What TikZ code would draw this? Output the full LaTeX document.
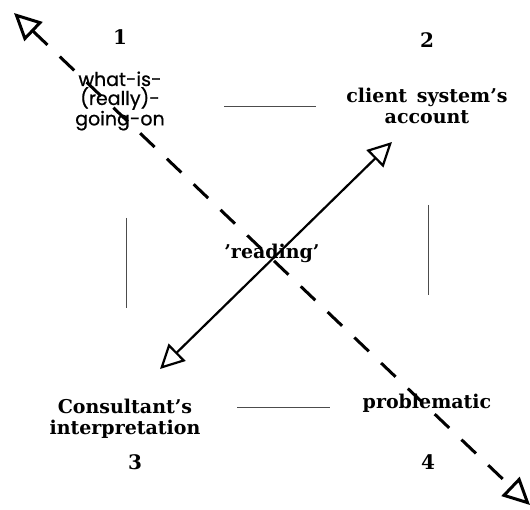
\documentclass[tikz,border=0pt]{standalone}
\usepackage{fontspec}
\setmainfont{DejaVu Serif}
\newfontfamily\gothic[FakeBold=0.8]{Poppins}
\usetikzlibrary{arrows.meta, positioning}

\tikzset{
  hollow/.tip={Triangle[open, length=27pt, width=26pt]},
  hollowsm/.tip={Triangle[open, length=24pt, width=24pt]},
  label/.style={font=\fontsize{19}{21}\selectfont\bfseries, align=center, inner sep=0pt},
  side/.style={line width=0.6pt, black!70},
}

\begin{document}
\begin{tikzpicture}[x=1pt, y=-1pt]
    \useasboundingbox (0,0) rectangle (530,510);

    % Corner numbers
    \foreach \n/\x/\y in {1/120/37, 2/427/40, 3/135/462, 4/428/462}
        \node[label, font=\fontsize{20}{22}\selectfont\bfseries] (num\n) at (\x,\y) {\n};

    % Corner texts
    \node[label, font=\gothic\fontsize{19}{19}\selectfont] (real) at (120,101) {what-is-\\(really)-\\going-on};
    \node[label] (client) at (427,106) {client\, system's\\account};
    \node[label] (consult) at (125,419) {Consultant's\\interpretation};
    \node[label] (problem) at (427,403) {problematic};
    \node[label] (reading) at (272,253) {'reading'};

    % Sides of the square
    \coordinate (topL) at (224,106);  \coordinate (topR) at (316,106);
    \coordinate (botL) at (237,407);  \coordinate (botR) at (330,407);
    \coordinate (lefT) at (126,218);  \coordinate (lefB) at (126,308);
    \coordinate (rigT) at (428,205);  \coordinate (rigB) at (428,295);
    \draw[side] (topL) -- (topR);
    \draw[side] (botL) -- (botR);
    \draw[side] (lefT) -- (lefB);
    \draw[side] (rigT) -- (rigB);

    % Arrows
    \coordinate (solidA) at (160,369);
    \coordinate (solidB) at (392,142);
    \draw[line width=2.2pt, hollowsm-hollowsm] (solidA) -- (solidB);

    \coordinate (dashA) at (14,13);
    \coordinate (dashB) at (530,505);
    \draw[line width=3pt, dash pattern=on 20pt off 17pt, hollow-hollow] (dashA) -- (dashB);
\end{tikzpicture}
\end{document}
